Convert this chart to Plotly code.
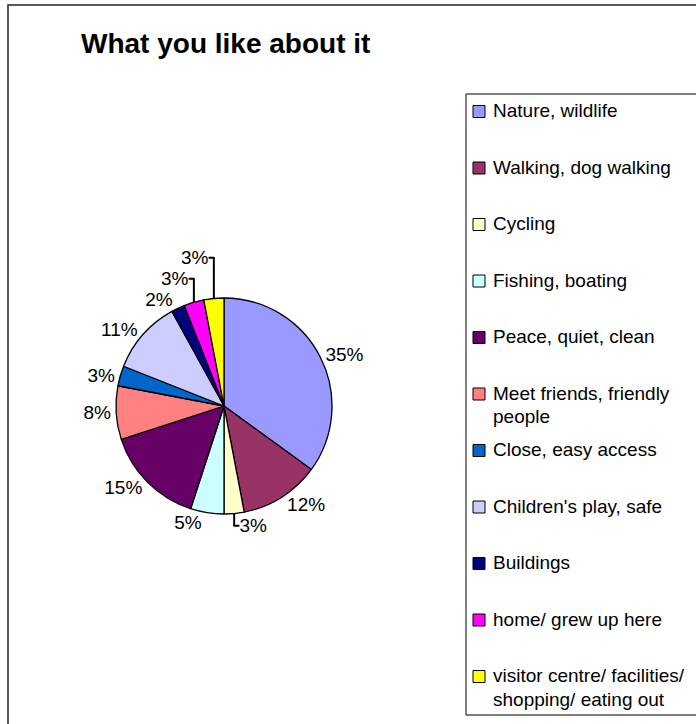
import plotly.graph_objects as go

categories = ["Nature, wildlife", "Walking, dog walking", "Cycling", "Fishing, boating",
              "Peace, quiet, clean", "Meet friends, friendly people", "Close, easy access",
              "Children's play, safe", "Buildings", "home/ grew up here",
              "visitor centre/ facilities/ shopping/ eating out"]
values = [35, 12, 3, 5, 15, 8, 3, 11, 2, 3, 3]
colors = ["#9999FF", "#993366", "#FFFFCC", "#CCFFFF", "#660066", "#FF8080",
          "#0066CC", "#CCCCFF", "#000080", "#FF00FF", "#FFFF00"]
legend_lines = [["Nature, wildlife"], ["Walking, dog walking"], ["Cycling"],
                ["Fishing, boating"], ["Peace, quiet, clean"],
                ["Meet friends, friendly", "people"], ["Close, easy access"],
                ["Children's play, safe"], ["Buildings"], ["home/ grew up here"],
                ["visitor centre/ facilities/", "shopping/ eating out"]]
title_text = "What you like about it"

W, H = 696, 724
FONT = "Arial, Liberation Sans, sans-serif"

def px(x):
    return x / W

def py(y):
    return 1 - y / H

fig = go.Figure()
fig.add_trace(go.Pie(
    labels=categories, values=values, sort=False, direction="clockwise", rotation=0,
    marker=dict(colors=colors, line=dict(color="black", width=1.3)),
    texttemplate="%{percent:.0%}", textposition="outside",
    textfont=dict(family=FONT, size=19, color="black"),
    domain=dict(x=[px(116), px(332)], y=[py(514), py(298)]),
    showlegend=False, hoverinfo="skip",
))

shapes = [
    dict(type="rect", xref="paper", yref="paper", x0=px(8), x1=px(W + 10), y0=py(H + 10), y1=py(5),
         line=dict(color="#222222", width=1.5), fillcolor="rgba(0,0,0,0)", layer="below"),
    dict(type="rect", xref="paper", yref="paper", x0=px(466), x1=px(W + 10), y0=py(715), y1=py(94),
         line=dict(color="black", width=1), fillcolor="rgba(0,0,0,0)", layer="below"),
]
annotations = [dict(text=f"<b>{title_text}</b>", xref="paper", yref="paper", x=px(79), y=py(44),
                    xanchor="left", yanchor="middle", showarrow=False,
                    font=dict(family=FONT, size=28, color="black"))]

y0, step = 110.5, 56.5
for i, (lines, col) in enumerate(zip(legend_lines, colors)):
    yc = y0 + i * step
    shapes.append(dict(type="rect", xref="paper", yref="paper", x0=px(473), x1=px(485),
                       y0=py(yc + 7), y1=py(yc - 5), line=dict(color="black", width=1),
                       fillcolor=col))
    for j, line in enumerate(lines):
        annotations.append(dict(text=line, xref="paper", yref="paper", x=px(491),
                                y=py(yc + j * 24), xanchor="left", yanchor="middle",
                                showarrow=False,
                                font=dict(family=FONT, size=19, color="black")))

fig.update_layout(width=W, height=H, margin=dict(l=0, r=0, t=0, b=0),
                  paper_bgcolor="white", plot_bgcolor="white",
                  shapes=shapes, annotations=annotations)
fig.write_html("out.html")
